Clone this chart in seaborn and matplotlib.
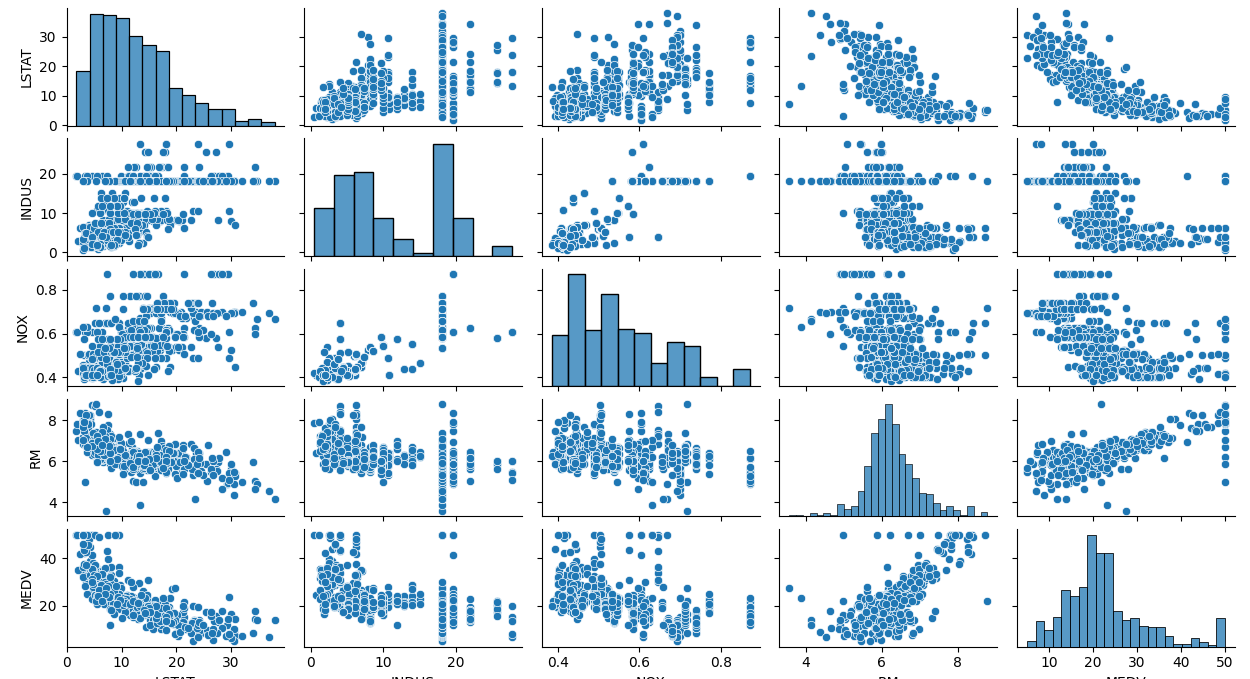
import matplotlib
matplotlib.use("Agg")
import matplotlib.pyplot as plt
import pandas as pd
import seaborn as sns

LSTAT = [4.98,9.14,4.03,2.94,5.33,5.21,12.43,19.15,29.93,17.10,20.45,13.27,15.71,8.26,10.26,8.47,6.58,14.67,11.69,11.28,21.02,13.83,18.72,19.88,16.30,16.51,14.81,17.28,12.80,11.98,22.60,13.04,27.71,18.35,20.34,9.68,11.41,8.77,10.13,4.32,1.98,4.84,5.81,7.44,9.55,10.21,14.15,18.80,30.81,16.20,13.45,9.43,5.28,8.43,14.80,4.81,5.77,3.95,6.86,9.22,13.15,14.44,6.73,9.50,8.05,4.67,10.24,8.10,13.09,8.79,6.72,9.88,5.52,7.54,6.78,8.94,11.97,10.27,12.34,9.10,5.29,7.22,6.72,7.51,9.62,6.53,12.86,8.44,5.50,5.70,8.81,8.20,8.16,6.21,10.59,6.65,11.34,4.21,3.57,6.19,9.42,7.67,10.63,13.44,12.33,16.47,18.66,14.09,12.27,15.55,13.00,10.16,16.21,17.09,10.45,15.76,12.04,10.30,15.37,13.61,14.37,14.27,17.93,25.41,17.58,14.81,27.26,17.19,15.39,18.34,12.60,12.26,11.12,15.03,17.31,16.96,16.90,14.59,21.32,18.46,24.16,34.41,26.82,26.42,29.29,27.80,16.65,29.53,28.32,21.45,14.10,13.28,12.12,15.79,15.12,15.02,16.14,4.59,6.43,7.39,5.50,1.73,1.92,3.32,11.64,9.81,3.70,12.14,11.10,11.32,14.43,12.03,14.69,9.04,9.64,5.33,10.11,6.29,6.92,5.04,7.56,9.45,4.82,5.68,13.98,13.15,4.45,6.68,4.56,5.39,5.10,4.69,2.87,5.03,4.38,2.97,4.08,8.61,6.62,4.56,4.45,7.43,3.11,3.81,2.88,10.87,10.97,18.06,14.66,23.09,17.27,23.98,16.03,9.38,29.55,9.47,13.51,9.69,17.92,10.50,9.71,21.46,9.93,7.60,4.14,4.63,3.13,6.36,3.92,3.76,11.65,5.25,2.47,3.95,8.05,10.88,9.54,4.73,6.36,7.37,11.38,12.40,11.22,5.19,12.50,18.46,9.16,10.15,9.52,6.56,5.90,3.59,3.53,3.54,6.57,9.25,3.11,5.12,7.79,6.90,9.59,7.26,5.91,11.25,8.10,10.45,14.79,7.44,3.16,13.65,13.00,6.59,7.73,6.58,3.53,2.98,6.05,4.16,7.19,4.85,3.76,4.59,3.01,3.16,7.85,8.23,12.93,7.14,7.60,9.51,3.33,3.56,4.70,8.58,10.40,6.27,7.39,15.84,4.97,4.74,6.07,9.50,8.67,4.86,6.93,8.93,6.47,7.53,4.54,9.97,12.64,5.98,11.72,7.90,9.28,11.50,18.33,15.94,10.36,12.73,7.20,6.87,7.70,11.74,6.12,5.08,6.15,12.79,9.97,7.34,9.09,12.43,7.83,5.68,6.75,8.01,9.80,10.56,8.51,9.74,9.29,5.49,8.65,7.18,4.61,10.53,12.67,6.36,5.99,5.89,5.98,5.49,7.79,4.50,8.05,5.57,17.60,13.27,11.48,12.67,7.79,14.19,10.19,14.64,5.29,7.12,14.00,13.33,3.26,3.73,2.96,9.53,8.88,34.77,37.97,13.44,23.24,21.24,23.69,21.78,17.21,21.08,23.60,24.56,30.63,30.81,28.28,31.99,30.62,20.85,17.11,18.76,25.68,15.17,16.35,17.12,19.37,19.92,30.59,29.97,26.77,20.32,20.31,19.77,27.38,22.98,23.34,12.13,26.40,19.78,10.11,21.22,34.37,20.08,36.98,29.05,25.79,26.64,20.62,22.74,15.02,15.70,14.10,23.29,17.16,24.39,15.69,14.52,21.52,24.08,17.64,19.69,12.03,16.22,15.17,23.27,18.05,26.45,34.02,22.88,22.11,19.52,16.59,18.85,23.79,23.98,17.79,16.44,18.13,19.31,17.44,17.73,17.27,16.74,18.71,18.13,19.01,16.94,16.23,14.70,16.42,14.65,13.99,10.29,13.22,14.13,17.15,21.32,18.13,14.76,16.29,12.87,14.36,11.66,18.14,24.10,18.68,24.91,18.03,13.11,10.74,7.74,7.01,10.42,13.34,10.58,14.98,11.45,18.06,23.97,29.68,18.07,13.35,12.01,13.59,17.60,21.14,14.10,12.92,15.10,14.33,9.67,9.08,5.64,6.48,7.88]

RM = [6.575,6.421,7.185,6.998,7.147,6.430,6.012,6.172,5.631,6.004,6.377,6.009,5.889,5.949,6.096,5.834,5.935,5.990,5.456,5.727,5.570,5.965,6.142,5.813,5.924,5.599,5.813,6.047,6.495,6.674,5.713,6.072,5.950,5.701,6.096,5.933,5.841,5.850,5.966,6.595,7.024,6.770,6.169,6.211,6.069,5.682,5.786,6.030,5.399,5.602,5.963,6.115,6.511,5.998,5.888,7.249,6.383,6.816,6.145,5.927,5.741,5.966,6.456,6.762,7.104,6.290,5.787,5.878,5.594,5.885,6.417,5.961,6.065,6.245,6.273,6.286,6.279,6.140,6.232,5.874,6.727,6.619,6.302,6.167,6.389,6.630,6.015,6.121,7.007,7.079,6.417,6.405,6.442,6.211,6.249,6.625,6.163,8.069,7.820,7.416,6.727,6.781,6.405,6.137,6.167,5.851,5.836,6.127,6.474,6.229,6.195,6.715,5.913,6.092,6.254,5.928,6.176,6.021,5.872,5.731,5.870,6.004,5.961,5.856,5.879,5.986,5.613,5.693,6.431,5.637,6.458,6.326,6.372,5.822,5.757,6.335,5.942,6.454,5.857,6.151,6.174,5.019,5.403,5.468,4.903,6.130,5.628,4.926,5.186,5.597,6.122,5.404,5.012,5.709,6.129,6.152,5.272,6.943,6.066,6.510,6.250,7.489,7.802,8.375,5.854,6.101,7.929,5.877,6.319,6.402,5.875,5.880,5.572,6.416,5.859,6.546,6.020,6.315,6.860,6.980,7.765,6.144,7.155,6.563,5.604,6.153,7.831,6.782,6.556,7.185,6.951,6.739,7.178,6.800,6.604,7.875,7.287,7.107,7.274,6.975,7.135,6.162,7.610,7.853,8.034,5.891,6.326,5.783,6.064,5.344,5.960,5.404,5.807,6.375,5.412,6.182,5.888,6.642,5.951,6.373,6.951,6.164,6.879,6.618,8.266,8.725,8.040,7.163,7.686,6.552,5.981,7.412,8.337,8.247,6.726,6.086,6.631,7.358,6.481,6.606,6.897,6.095,6.358,6.393,5.593,5.605,6.108,6.226,6.433,6.718,6.487,6.438,6.957,8.259,6.108,5.876,7.454,8.704,7.333,6.842,7.203,7.520,8.398,7.327,7.206,5.560,7.014,8.297,7.470,5.920,5.856,6.240,6.538,7.691,6.758,6.854,7.267,6.826,6.482,6.812,7.820,6.968,7.645,7.923,7.088,6.453,6.230,6.209,6.315,6.565,6.861,7.148,6.630,6.127,6.009,6.678,6.549,5.790,6.345,7.041,6.871,6.590,6.495,6.982,7.236,6.616,7.420,6.849,6.635,5.972,4.973,6.122,6.023,6.266,6.567,5.705,5.914,5.782,6.382,6.113,6.426,6.376,6.041,5.708,6.415,6.431,6.312,6.083,5.868,6.333,6.144,5.706,6.031,6.316,6.310,6.037,5.869,5.895,6.059,5.985,5.968,7.241,6.540,6.696,6.874,6.014,5.898,6.516,6.635,6.939,6.490,6.579,5.884,6.728,5.663,5.936,6.212,6.395,6.127,6.112,6.398,6.251,5.362,5.803,8.780,3.561,4.963,3.863,4.970,6.683,7.016,6.216,5.875,4.906,4.138,7.313,6.649,6.794,6.380,6.223,6.968,6.545,5.536,5.520,4.368,5.277,4.652,5.000,4.880,5.390,5.713,6.051,5.036,6.193,5.887,6.471,6.405,5.747,5.453,5.852,5.987,6.343,6.404,5.349,5.531,5.683,4.138,5.608,5.617,6.852,5.757,6.657,4.628,5.155,4.519,6.434,6.782,5.304,5.957,6.824,6.411,6.006,5.648,6.103,5.565,5.896,5.837,6.202,6.193,6.380,6.348,6.833,6.425,6.436,6.208,6.629,6.461,6.152,5.935,5.627,5.818,6.406,6.219,6.485,5.854,6.459,6.341,6.251,6.185,6.417,6.749,6.655,6.297,7.393,6.728,6.525,5.976,5.936,6.301,6.081,6.701,6.376,6.317,6.513,6.209,5.759,5.952,6.003,5.926,5.713,6.167,6.229,6.437,6.980,5.427,6.162,6.484,5.304,6.185,6.229,6.242,6.750,7.061,5.762,5.871,6.312,6.114,5.905,5.454,5.414,5.093,5.983,5.983,5.707,5.926,5.670,5.390,5.794,6.019,5.569,6.027,6.593,6.120,6.976,6.794,6.030]

MEDV = [24.0,21.6,34.7,33.4,36.2,28.7,22.9,27.1,16.5,18.9,15.0,18.9,21.7,20.4,18.2,19.9,23.1,17.5,20.2,18.2,13.6,19.6,15.2,14.5,15.6,13.9,16.6,14.8,18.4,21.0,12.7,14.5,13.2,13.1,13.5,18.9,20.0,21.0,24.7,30.8,34.9,26.6,25.3,24.7,21.2,19.3,20.0,16.6,14.4,19.4,19.7,20.5,25.0,23.4,18.9,35.4,24.7,31.6,23.3,19.6,18.7,16.0,22.2,25.0,33.0,23.5,19.4,22.0,17.4,20.9,24.2,21.7,22.8,23.4,24.1,21.4,20.0,20.8,21.2,20.3,28.0,23.9,24.8,22.9,23.9,26.6,22.5,22.2,23.6,28.7,22.6,22.0,22.9,25.0,20.6,28.4,21.4,38.7,43.8,33.2,27.5,26.5,18.6,19.3,20.1,19.5,19.5,20.4,19.8,19.4,21.7,22.8,18.8,18.7,18.5,18.3,21.2,19.2,20.4,19.3,22.0,20.3,20.5,17.3,18.8,21.4,15.7,16.2,18.0,14.3,19.2,19.6,23.0,18.4,15.6,18.1,17.4,17.1,13.3,17.8,14.0,14.4,13.4,15.6,11.8,13.8,15.6,14.6,17.8,15.4,21.5,19.6,15.3,19.4,17.0,15.6,13.1,41.3,24.3,23.3,27.0,50.0,50.0,50.0,22.7,25.0,50.0,23.8,23.8,22.3,17.4,19.1,23.1,23.6,22.6,29.4,23.2,24.6,29.9,37.2,39.8,36.2,37.9,32.5,26.4,29.6,50.0,32.0,29.8,34.9,37.0,30.5,36.4,31.1,29.1,50.0,33.3,30.3,34.6,34.9,32.9,24.1,42.3,48.5,50.0,22.6,24.4,22.5,24.4,20.0,21.7,19.3,22.4,28.1,23.7,25.0,23.3,28.7,21.5,23.0,26.7,21.7,27.5,30.1,44.8,50.0,37.6,31.6,46.7,31.5,24.3,31.7,41.7,48.3,29.0,24.0,25.1,31.5,23.7,23.3,22.0,20.1,22.2,23.7,17.6,18.5,24.3,20.5,24.5,26.2,24.4,24.8,29.6,42.8,21.9,20.9,44.0,50.0,36.0,30.1,33.8,43.1,48.8,31.0,36.5,22.8,30.7,50.0,43.5,20.7,21.1,25.2,24.4,35.2,32.4,32.0,33.2,33.1,29.1,35.1,45.4,35.4,46.0,50.0,32.2,22.0,20.1,23.2,22.3,24.8,28.5,37.3,27.9,23.9,21.7,28.6,27.1,20.3,22.5,29.0,24.8,22.0,26.4,33.1,36.1,28.4,33.4,28.2,22.8,20.3,16.1,22.1,19.4,21.6,23.8,16.2,17.8,19.8,23.1,21.0,23.8,23.1,20.4,18.5,25.0,24.6,23.0,22.2,19.3,22.6,19.8,17.1,19.4,22.2,20.7,21.1,19.5,18.5,20.6,19.0,18.7,32.7,16.5,23.9,31.2,17.5,17.2,23.1,24.5,26.6,22.9,24.1,18.6,30.1,18.2,20.6,17.8,21.7,22.7,22.6,25.0,19.9,20.8,16.8,21.9,27.5,21.9,23.1,50.0,50.0,50.0,50.0,50.0,13.8,13.8,15.0,13.9,13.3,13.1,10.2,10.4,10.9,11.3,12.3,8.8,7.2,10.5,7.4,10.2,11.5,15.1,23.2,9.7,13.8,12.7,13.1,12.5,8.5,5.0,6.3,5.6,7.2,12.1,8.3,8.5,5.0,11.9,27.9,17.2,27.5,15.0,17.2,17.9,16.3,7.0,7.2,7.5,10.4,8.8,8.4,16.7,14.2,20.8,13.4,11.7,8.3,10.2,10.9,11.0,9.5,14.5,14.1,16.1,14.3,11.7,13.4,9.6,8.7,8.4,12.8,10.5,17.1,18.4,15.4,10.8,11.8,14.9,12.6,14.1,13.0,13.4,15.2,16.1,17.8,14.9,14.1,12.7,13.5,14.9,20.0,16.4,17.7,19.5,20.2,21.4,19.9,19.0,19.1,19.1,20.1,19.9,19.6,23.2,29.8,13.8,13.3,16.7,12.0,14.6,21.4,23.0,23.7,25.0,21.8,20.6,21.2,19.1,20.6,15.2,7.0,8.1,13.6,20.1,21.8,24.5,23.1,19.7,18.3,21.2,17.5,16.8,22.4,20.6,23.9,22.0,11.9]

INDUS = [2.31,7.07,7.07,2.18,2.18,2.18,
7.87,7.87,7.87,7.87,7.87,7.87,7.87,
8.14,8.14,8.14,8.14,8.14,8.14,8.14,8.14,8.14,8.14,8.14,8.14,8.14,8.14,8.14,8.14,8.14,8.14,8.14,8.14,8.14,8.14,
5.96,5.96,5.96,5.96,2.95,2.95,
6.91,6.91,6.91,6.91,6.91,6.91,6.91,6.91,6.91,
5.64,5.64,5.64,5.64,4.00,1.22,0.74,1.32,
5.13,5.13,5.13,5.13,5.13,5.13,1.38,3.37,3.37,6.07,6.07,6.07,
10.81,10.81,10.81,10.81,12.83,12.83,12.83,12.83,12.83,12.83,
4.86,4.86,4.86,4.86,4.49,4.49,4.49,4.49,3.41,3.41,3.41,3.41,15.04,15.04,15.04,
2.89,2.89,2.89,2.89,2.89,
8.56,8.56,8.56,8.56,8.56,8.56,8.56,8.56,8.56,8.56,8.56,
10.01,10.01,10.01,10.01,10.01,10.01,10.01,10.01,10.01,
25.65,25.65,25.65,25.65,25.65,25.65,25.65,
21.89,21.89,21.89,21.89,21.89,21.89,21.89,21.89,21.89,21.89,21.89,21.89,21.89,21.89,21.89,
19.58,19.58,19.58,19.58,19.58,19.58,19.58,19.58,19.58,19.58,19.58,19.58,19.58,19.58,19.58,
19.58,19.58,19.58,19.58,19.58,19.58,19.58,19.58,19.58,19.58,19.58,19.58,19.58,19.58,19.58,
4.05,4.05,4.05,4.05,4.05,4.05,4.05,
2.46,2.46,2.46,2.46,2.46,2.46,2.46,2.46,
3.44,3.44,3.44,3.44,3.44,3.44,2.93,2.93,0.46,1.52,1.52,1.52,1.47,1.47,2.03,2.03,2.68,2.68,
10.59,10.59,10.59,10.59,10.59,10.59,10.59,10.59,10.59,10.59,10.59,
13.89,13.89,13.89,13.89,
6.2,6.2,6.2,6.2,6.2,6.2,6.2,6.2,6.2,6.2,6.2,6.2,6.2,6.2,6.2,6.2,6.2,6.2,
4.93,4.93,4.93,4.93,4.93,4.93,
5.86,5.86,5.86,5.86,5.86,5.86,5.86,5.86,5.86,5.86,
3.64,3.64,3.75,
3.97,3.97,3.97,3.97,3.97,3.97,3.97,3.97,3.97,3.97,3.97,3.97,
6.96,6.96,6.96,6.96,6.96,6.41,6.41,6.41,6.41,6.41,3.33,3.33,3.33,3.33,
1.21,2.97,2.25,1.76,5.32,5.32,5.32,4.95,4.95,4.95,
13.92,13.92,13.92,13.92,13.92,2.24,2.24,2.24,6.09,6.09,6.09,2.18,2.18,2.18,2.18,
9.9,9.9,9.9,9.9,9.9,9.9,9.9,9.9,9.9,9.9,9.9,9.9,
7.38,7.38,7.38,7.38,7.38,7.38,7.38,7.38,
3.24,3.24,3.24,6.06,6.06,
5.19,5.19,5.19,5.19,5.19,5.19,5.19,5.19,
1.52,1.89,3.78,3.78,4.39,4.39,4.15,2.01,1.25,1.25,1.69,1.69,2.02,1.91,1.91,
18.1,18.1,18.1,18.1,18.1,18.1,18.1,18.1,18.1,18.1,18.1,18.1,18.1,18.1,18.1,18.1,18.1,18.1,18.1,18.1,18.1,18.1,
18.1,18.1,18.1,18.1,18.1,18.1,18.1,18.1,18.1,18.1,18.1,18.1,18.1,18.1,18.1,18.1,18.1,18.1,18.1,18.1,18.1,18.1,
18.1,18.1,18.1,18.1,18.1,18.1,18.1,18.1,18.1,18.1,18.1,18.1,18.1,18.1,18.1,18.1,18.1,18.1,18.1,18.1,18.1,18.1,
18.1,18.1,18.1,18.1,18.1,18.1,18.1,18.1,18.1,18.1,18.1,18.1,18.1,18.1,18.1,18.1,18.1,18.1,18.1,18.1,18.1,18.1,
18.1,18.1,18.1,18.1,18.1,18.1,18.1,18.1,18.1,18.1,18.1,18.1,18.1,18.1,18.1,18.1,18.1,18.1,18.1,18.1,18.1,18.1,
18.1,18.1,18.1,18.1,18.1,18.1,18.1,18.1,18.1,18.1,18.1,18.1,18.1,18.1,18.1,18.1,18.1,18.1,18.1,18.1,18.1,18.1,
27.74,27.74,27.74,27.74,27.74,9.69,9.69,9.69,9.69,9.69,9.69,9.69,9.69,11.93,11.93,11.93,11.93,11.93]

NOX = [0.538,0.469,0.469,0.458,0.458,0.458,
0.524,0.524,0.524,0.524,0.524,0.524,0.524,
0.538,0.538,0.538,0.538,0.538,0.538,0.538,0.538,0.538,0.538,0.538,0.538,0.538,0.538,0.538,0.538,0.538,0.538,0.538,0.538,0.538,0.538,
0.499,0.499,0.499,0.499,0.428,0.428,
0.448,0.448,0.448,0.448,0.448,0.448,0.448,0.448,0.448,
0.439,0.439,0.439,0.439,0.41,0.403,0.41,0.411,
0.453,0.453,0.453,0.453,0.453,0.453,0.4161,0.398,0.398,0.409,0.409,0.409,
0.413,0.413,0.413,0.413,0.437,0.437,0.437,0.437,0.437,0.437,
0.426,0.426,0.426,0.426,0.449,0.449,0.449,0.449,0.489,0.489,0.489,0.489,0.464,0.464,0.464,
0.445,0.445,0.445,0.445,0.445,
0.52,0.52,0.52,0.52,0.52,0.52,0.52,0.52,0.52,0.52,0.52,
0.547,0.547,0.547,0.547,0.547,0.547,0.547,0.547,0.547,
0.581,0.581,0.581,0.581,0.581,0.581,0.581,
0.624,0.624,0.624,0.624,0.624,0.624,0.624,0.624,0.624,0.624,0.624,0.624,0.624,0.624,0.624,
0.871,0.871,0.871,0.871,0.871,0.871,0.871,0.871,0.871,0.871,0.871,0.871,0.871,0.871,0.871,
0.605,0.605,0.871,0.605,0.605,0.605,0.605,0.605,0.605,0.605,0.605,0.605,0.605,0.605,0.605,
0.51,0.51,0.51,0.51,0.51,0.51,0.51,
0.488,0.488,0.488,0.488,0.488,0.488,0.488,0.488,
0.437,0.437,0.437,0.437,0.437,0.437,0.401,0.401,0.422,0.404,0.404,0.404,0.403,0.403,0.415,0.415,0.4161,0.4161,
0.489,0.489,0.489,0.489,0.489,0.489,0.489,0.489,0.489,0.489,0.489,
0.55,0.55,0.55,0.55,
0.507,0.507,0.507,0.507,0.504,0.504,0.504,0.504,0.504,0.504,0.504,0.504,0.507,0.507,0.507,0.507,0.507,0.507,
0.428,0.428,0.428,0.428,0.428,0.428,
0.431,0.431,0.431,0.431,0.431,0.431,0.431,0.431,0.431,0.431,
0.392,0.392,0.394,
0.647,0.647,0.647,0.647,0.647,0.647,0.647,0.647,0.575,0.575,0.575,0.575,
0.464,0.464,0.464,0.464,0.464,0.447,0.447,0.447,0.447,0.447,0.4429,0.4429,0.4429,0.4429,
0.401,0.4,0.389,0.385,0.405,0.405,0.405,0.411,0.411,0.411,
0.437,0.437,0.437,0.437,0.437,0.4,0.4,0.4,0.433,0.433,0.433,0.472,0.472,0.472,0.472,
0.544,0.544,0.544,0.544,0.544,0.544,0.544,0.544,0.544,0.544,0.544,0.544,
0.493,0.493,0.493,0.493,0.493,0.493,0.493,0.493,
0.46,0.46,0.46,0.4379,0.4379,
0.515,0.515,0.515,0.515,0.515,0.515,0.515,0.515,
0.442,0.518,0.484,0.484,0.442,0.442,0.429,0.435,0.429,0.429,0.411,0.411,0.41,0.413,0.413,
0.77,0.77,0.77,0.77,0.77,0.77,0.77,0.77,0.718,0.718,0.718,0.631,0.631,0.631,0.631,0.631,0.668,0.668,0.668,
0.671,0.671,0.671,0.671,0.671,0.671,0.671,
0.7,0.7,0.7,0.7,0.7,0.7,0.7,0.7,0.7,0.7,0.7,
0.693,0.693,0.693,0.693,0.693,0.693,0.693,0.693,0.693,0.693,0.693,0.693,0.693,
0.659,0.659,0.597,0.597,0.597,0.597,0.597,0.597,0.693,0.679,0.679,0.679,0.679,0.718,0.718,0.718,0.614,0.614,
0.584,0.679,0.584,0.679,0.679,0.679,0.584,0.584,0.584,0.713,0.713,
0.74,0.74,0.74,0.74,0.74,0.74,0.74,0.74,0.74,0.74,0.74,0.74,0.74,
0.713,0.713,0.713,0.713,0.713,0.713,0.713,0.713,0.713,0.713,0.713,0.713,0.713,0.713,0.713,0.713,
0.655,0.655,0.655,0.584,0.58,0.58,0.58,0.532,0.58,0.614,0.614,0.584,0.614,0.614,0.614,0.614,
0.532,0.532,0.532,0.532,0.583,0.583,0.583,0.583,
0.609,0.609,0.609,0.609,0.609,0.585,0.585,0.585,0.585,0.585,0.585,0.585,0.585,0.573,0.573,0.573,0.573,0.573]

COLUMNS = ["LSTAT", "INDUS", "NOX", "RM", "MEDV"]

lengths = {"LSTAT": len(LSTAT), "INDUS": len(INDUS), "NOX": len(NOX), "RM": len(RM), "MEDV": len(MEDV)}
if len(set(lengths.values())) != 1:
    raise SystemExit(f"length mismatch: {lengths}")

df = pd.DataFrame({"LSTAT": LSTAT, "INDUS": INDUS, "NOX": NOX, "RM": RM, "MEDV": MEDV})[COLUMNS]

g = sns.pairplot(df, grid_kws={"diag_sharey": False})
g.figure.set_size_inches(12.5, 6.79)
W, H = 1250, 679
col_w, col_gap = 218.0, 19.7
row_h, row_gap = 117.5, 12.8
g.figure.subplots_adjust(
    left=66.5 / W, right=1235 / W, top=1 - 8 / H, bottom=1 - 646.7 / H,
    wspace=col_gap / col_w, hspace=row_gap / row_h,
)
g.figure.savefig("out.png", dpi=100)
